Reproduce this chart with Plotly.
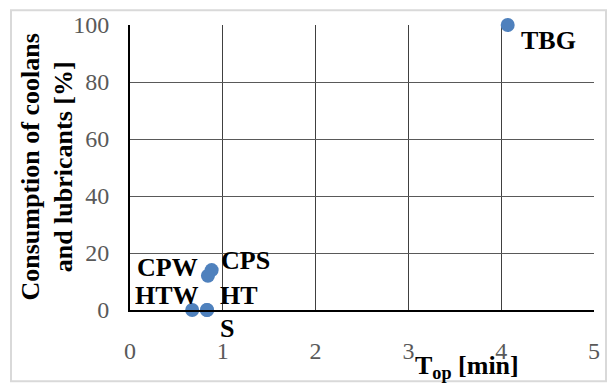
import plotly.graph_objects as go

# Operating time vs. consumption of coolants and lubricants per process
processes = ["TBG", "CPS", "CPW", "HTW", "HT", "S"]
t_op = [4.07, 0.88, 0.84, 0.67, 0.83, 0.83]
consumption = [100, 14, 12, 0, 0, 0]

# label offsets from the marker, in pixels, and horizontal alignment
label_xshift = [11, 7, -8, 9, 11, 11]
label_yshift = [-15, 10, 8, 15, 15, -18]
label_align = ["left", "left", "right", "right", "left", "left"]

x_ticks = [0, 1, 2, 3, 4, 5]
y_ticks = [0, 20, 40, 60, 80, 100]

serif = "Liberation Serif"

fig = go.Figure()
fig.add_trace(go.Scatter(
    x=t_op, y=consumption, mode="markers",
    marker=dict(size=14, color="#4F81BD"),
    cliponaxis=False, showlegend=False,
))

for name, x, y, dx, dy, al in zip(processes, t_op, consumption,
                                  label_xshift, label_yshift, label_align):
    fig.add_annotation(
        x=x, y=y, xref="x", yref="y", text=f"<b>{name}</b>",
        xshift=dx, yshift=dy,
        showarrow=False, xanchor=al, yanchor="middle",
        font=dict(family=serif, size=26, color="black"),
    )

W, H = 616, 383
L, R, T, B = 130, 22, 22, 73
pw, ph = W - L - R, H - T - B

# axis titles
fig.add_annotation(
    x=(47 - L) / pw, y=0.5, xref="paper", yref="paper",
    text="<b>Consumption of coolans<br>and lubricants [%]</b>",
    textangle=-90, showarrow=False, xanchor="center", yanchor="middle",
    font=dict(family=serif, size=26, color="black"),
)
fig.add_annotation(
    x=(467 - L) / pw, y=-(368 - (T + ph)) / ph, xref="paper", yref="paper",
    text="<b>T<sub>op</sub> [min]</b>",
    showarrow=False, xanchor="center", yanchor="middle",
    font=dict(family=serif, size=26, color="black"),
)

# light outer frame of the chart area
fig.add_shape(
    type="rect", xref="paper", yref="paper",
    x0=(11 - L) / pw, x1=(606 - L) / pw,
    y0=-(382 - (T + ph)) / ph, y1=1 + (T - 7) / ph,
    line=dict(color="#D9D9D9", width=2), layer="below",
)

fig.update_xaxes(
    range=[0, 5], tickvals=x_ticks, ticks="", showgrid=True,
    gridcolor="#404040", gridwidth=1, zeroline=False,
    showline=True, linecolor="black", linewidth=2,
    ticklabelstandoff=18,
    tickfont=dict(family=serif, size=24, color="#595959"),
)
fig.update_yaxes(
    range=[0, 100], tickvals=y_ticks, ticks="", showgrid=True,
    gridcolor="#595959", gridwidth=1, zeroline=False,
    showline=True, linecolor="black", linewidth=2,
    ticklabelstandoff=14,
    tickfont=dict(family=serif, size=24, color="#595959"),
)

fig.update_layout(
    width=W, height=H,
    margin=dict(l=L, r=R, t=T, b=B),
    paper_bgcolor="white", plot_bgcolor="white",
    font=dict(family=serif),
)

fig.write_html("out.html")
